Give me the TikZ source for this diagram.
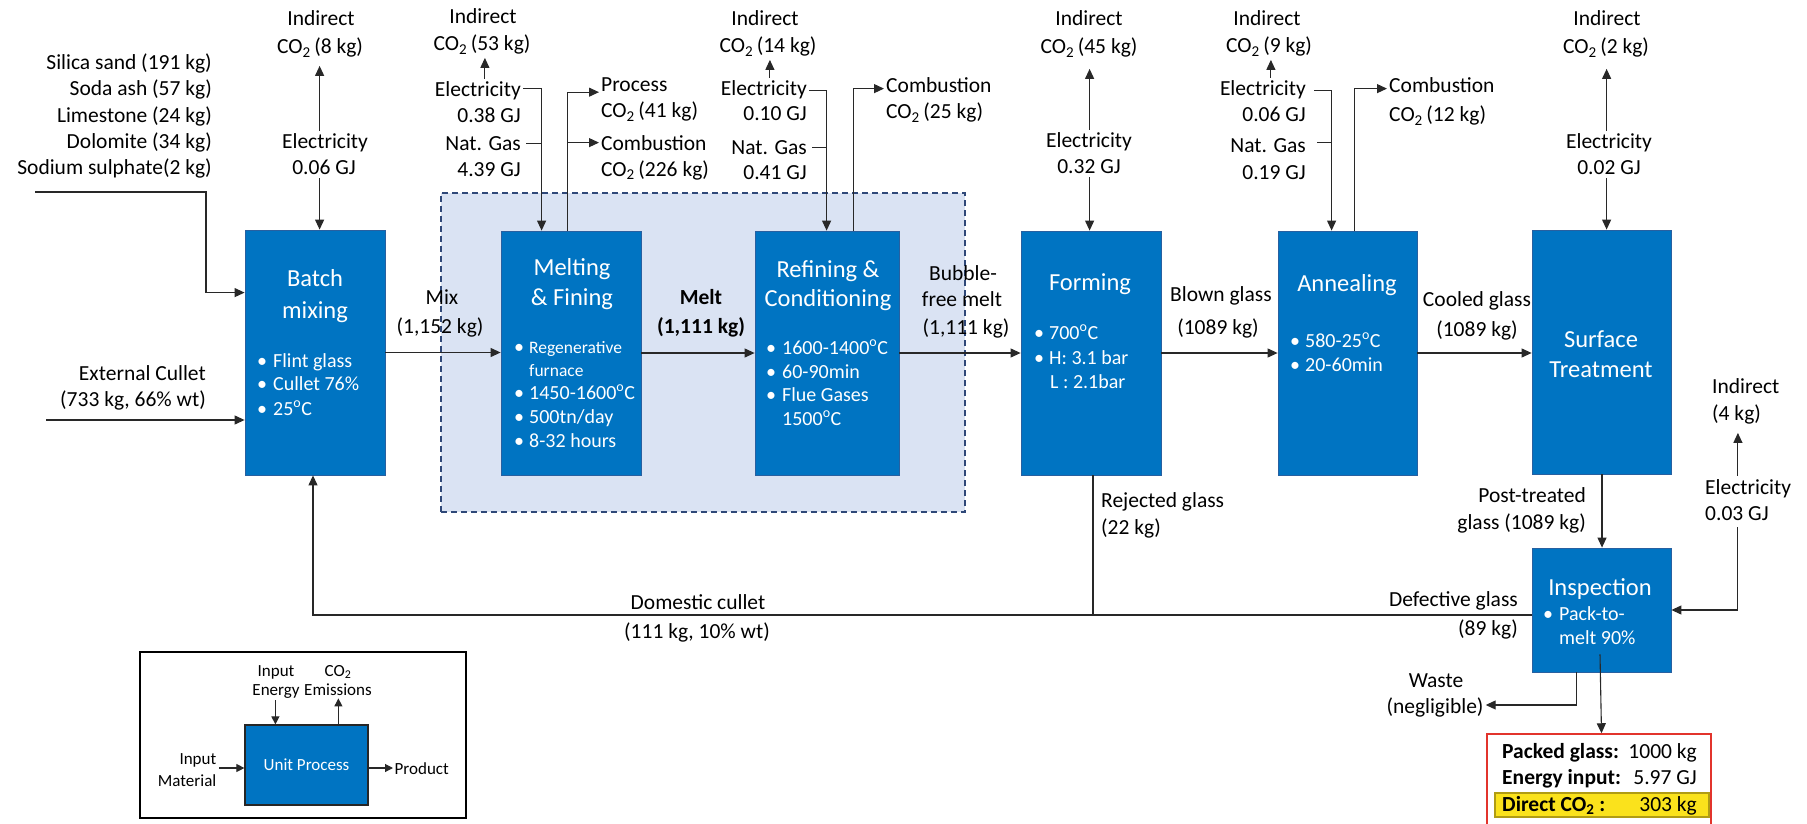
\documentclass[tikz,border=0pt]{standalone}
\usepackage{fontspec}
\setmainfont{Carlito}
\usetikzlibrary{arrows.meta,calc}

\definecolor{procblue}{RGB}{0,116,194}
\definecolor{procedge}{RGB}{40,96,160}
\definecolor{groupfill}{RGB}{218,227,243}
\definecolor{groupedge}{RGB}{47,72,120}
\definecolor{linec}{RGB}{40,40,40}
\definecolor{resred}{RGB}{226,52,44}
\definecolor{resyellow}{RGB}{250,226,28}
\definecolor{resyedge}{RGB}{176,156,20}

\newcommand\dgC{\textsuperscript{o}C}
\newcommand\cotwo{CO\textsubscript{2}}

\begin{document}
\begin{tikzpicture}[x=1pt,y=-1pt,
  lbl/.style={font=\fontsize{21.5}{26}\selectfont, inner xsep=2pt, inner ysep=3pt},
  ttl/.style={font=\fontsize{24.5}{30}\selectfont, text=white, inner sep=0pt, anchor=base},
  bl/.style={font=\fontsize{20}{24}\selectfont, text=white, inner sep=0pt, anchor=base west},
  sbl/.style={font=\fontsize{17.5}{21}\selectfont, text=white, inner sep=0pt, anchor=base west},
  dot/.style={font=\fontsize{20}{24}\selectfont, text=white, inner sep=0pt, anchor=base},
  proc/.style={fill=procblue, draw=procedge, line width=0.8pt, inner sep=0pt},
  arr/.style={draw=linec, line width=1.1pt, -{Triangle[length=10pt,width=9pt]}},
  ln/.style={draw=linec, line width=1.1pt},
  leg/.style={font=\fontsize{17}{20}\selectfont, inner sep=1.5pt},
  larr/.style={draw=linec, line width=1.1pt, -{Triangle[length=8pt,width=8pt]}},
]
\useasboundingbox (0,0) rectangle (1807,824);

% ---------- melting / refining group ----------
\node[fill=groupfill, draw=groupedge, line width=1.5pt, dash pattern=on 6pt off 4pt,
      minimum width=524pt, minimum height=319pt, inner sep=0pt] (grp) at (703,352.5) {};

% ---------- process boxes ----------
\node[proc, minimum width=140pt, minimum height=245pt] (batch)  at (315,352.5) {};
\node[proc, minimum width=140pt, minimum height=244pt] (melt)   at (571,353) {};
\node[proc, minimum width=144pt, minimum height=244pt] (refn)   at (827,353) {};
\node[proc, minimum width=140pt, minimum height=244pt] (form)   at (1091,353) {};
\node[proc, minimum width=139pt, minimum height=244pt] (anneal) at (1347.5,353) {};
\node[proc, minimum width=139pt, minimum height=244pt] (surf)   at (1601.5,352) {};
\node[proc, minimum width=139pt, minimum height=124pt] (insp)   at (1601.5,610) {};

% box titles
\node[ttl] (t-batch1) at (315,286) {Batch};
\node[ttl] (t-batch2) at (315,318) {mixing};
\node[ttl] (t-melt1)  at (572,275) {Melting};
\node[ttl] (t-melt2)  at (572,305) {\& Fining};
\node[ttl] (t-refn1)  at (828,277) {Refining \&};
\node[ttl] (t-refn2)  at (828,306) {Conditioning};
\node[ttl] (t-form)   at (1090,290) {Forming};
\node[ttl] (t-ann)    at (1347,291) {Annealing};
\node[ttl] (t-surf1)  at (1601,347) {Surface};
\node[ttl] (t-surf2)  at (1601,377) {Treatment};
\node[ttl] (t-insp)   at (1600,595) {Inspection};

% bullet lists inside the boxes
\foreach \t/\y [count=\i] in {{Flint glass}/367, {Cullet 76\%}/390, {25\dgC}/415} {
  \node[dot] (bd\i) at (262,\y) {\textbullet};
  \node[bl]  (bt\i) at (273,\y) {\t};
}
\node[dot] (md1) at (519,353) {\textbullet};
\node[sbl] (mt1) at (529,353) {Regenerative};
\node[sbl] (mt1b) at (529,376) {furnace};
\foreach \t/\y [count=\i from 2] in {{1450-1600\dgC}/399, {500tn/day}/423, {8-32 hours}/447} {
  \node[dot] (md\i) at (519,\y) {\textbullet};
  \node[bl]  (mt\i) at (529,\y) {\t};
}
\foreach \t/\y [count=\i] in {{1600-1400\dgC}/354, {60-90min}/378, {Flue Gases}/401} {
  \node[dot] (rd\i) at (771,\y) {\textbullet};
  \node[bl]  (rt\i) at (782,\y) {\t};
}
\node[bl] (rt4) at (782,425) {1500\dgC};
\foreach \t/\y [count=\i] in {{700\dgC}/339, {H: 3.1 bar}/364} {
  \node[dot] (fd\i) at (1039,\y) {\textbullet};
  \node[bl]  (ft\i) at (1049,\y) {\t};
}
\node[bl] (ft3) at (1050,388) {L : 2.1bar};
\foreach \t/\y [count=\i] in {{580-25\dgC}/347, {20-60min}/371} {
  \node[dot] (ad\i) at (1295,\y) {\textbullet};
  \node[bl]  (at\i) at (1305,\y) {\t};
}
\node[dot] (id1) at (1548,620) {\textbullet};
\node[bl]  (it1) at (1559,620) {Pack-to-};
\node[bl]  (it2) at (1559,644) {melt 90\%};

% ---------- raw materials and external cullet ----------
\foreach \t/\y [count=\i] in {{Silica sand (191 kg)}/70, {Soda ash (57 kg)}/96, {Limestone (24 kg)}/123,
    {Dolomite (34 kg)}/149, {Sodium sulphate(2 kg)}/175} {
  \node[lbl, anchor=base east] (raw\i) at (214,\y) {\t};
}
\coordinate (rawin) at (35,192);
\coordinate (rawbend) at (206,192);
\draw[arr] (rawin) -- (rawbend) |- ($(batch.north west)+(0,63)$);

\node[lbl, anchor=base east] (ext1) at (208,380) {External Cullet};
\node[lbl, anchor=base east] (ext2) at (208,406) {(733 kg, 66\% wt)};
\coordinate (extin) at (46,420);
\draw[arr] (extin) -- (extin -| batch.west);

% ---------- batch mixing inputs ----------
\node[lbl, anchor=base] (b-ind) at (321,26) {Indirect};
\node[lbl, anchor=base] (b-co2) at (320,54) {\cotwo\,(8 kg)};
\node[lbl, anchor=base] (b-el)  at (325,149) {Electricity};
\node[lbl, anchor=base] (b-gj)  at (324,175) {0.06 GJ};
\coordinate (b-x) at ($(batch.north west)+(75,0)$);
\draw[arr] (b-el.north -| b-x) -- ($(b-co2.south -| b-x)+(0,5)$);
\draw[arr] (b-gj.south -| b-x) -- (b-x);

% ---------- melting inputs / emissions ----------
\node[lbl, anchor=base] (m-ind) at (483,24) {Indirect};
\node[lbl, anchor=base] (m-co2) at (482,51) {\cotwo\,(53 kg)};
\node[lbl, anchor=base east] (m-el)  at (523,97)  {Electricity};
\node[lbl, anchor=base east] (m-gj1) at (523,123) {0.38 GJ};
\node[lbl, anchor=base east] (m-gas) at (523,150) {Nat. Gas};
\node[lbl, anchor=base east] (m-gj2) at (523,176) {4.39 GJ};
\draw[arr] ($(m-el.north)+(7,0)$) coordinate (m-up) -- (m-up |- m-co2.south);
\coordinate (m-in) at ($(melt.north west)+(41,0)$);
\draw[arr] ($(m-el.east)+(0,-3)$) -| (m-in);
\draw[ln] ($(m-gas.east)+(3,0)$) -- (m-gas.east -| m-in);
\node[lbl, anchor=base west] (m-p1) at (599,92)  {Process};
\node[lbl, anchor=base west] (m-p2) at (599,118) {\cotwo\,(41 kg)};
\node[lbl, anchor=base west] (m-c1) at (599,150) {Combustion};
\node[lbl, anchor=base west] (m-c2) at (599,176) {\cotwo\,(226 kg)};
\coordinate (m-out) at ($(melt.north west)+(67,0)$);
\draw[arr] (m-out) |- ($(m-p1.west)+(0,7)$);
\draw[arr] (m-out |- m-c1.west) -- (m-c1.west);

% ---------- refining inputs / emissions ----------
\node[lbl, anchor=base] (r-ind) at (765,26) {Indirect};
\node[lbl, anchor=base] (r-co2) at (768,53) {\cotwo\,(14 kg)};
\node[lbl, anchor=base east] (r-el)  at (809,96)  {Electricity};
\node[lbl, anchor=base east] (r-gj1) at (809,121) {0.10 GJ};
\node[lbl, anchor=base east] (r-gas) at (809,154) {Nat. Gas};
\node[lbl, anchor=base east] (r-gj2) at (809,179) {0.41 GJ};
\draw[arr] ($(r-el.north)+(6,0)$) coordinate (r-up) -- (r-up |- r-co2.south);
\coordinate (r-in) at ($(refn.north west)+(72,0)$);
\draw[arr] (r-el.east) -| (r-in);
\draw[ln] ($(r-gas.east)+(3,0)$) -- (r-gas.east -| r-in);
\node[lbl, anchor=base west] (r-c1) at (884,93)  {Combustion};
\node[lbl, anchor=base west] (r-c2) at (884,119) {\cotwo\,(25 kg)};
\coordinate (r-out) at ($(refn.north west)+(99,0)$);
\draw[arr] (r-out) |- ($(r-c1.west)+(0,3)$);

% ---------- forming inputs ----------
\node[lbl, anchor=base] (f-ind) at (1089,26) {Indirect};
\node[lbl, anchor=base] (f-co2) at (1089,54) {\cotwo\,(45 kg)};
\node[lbl, anchor=base] (f-el)  at (1089,148) {Electricity};
\node[lbl, anchor=base] (f-gj)  at (1089,174) {0.32 GJ};
\coordinate (f-x) at ($(form.north west)+(69,0)$);
\draw[arr] (f-el.north -| f-x) -- ($(f-co2.south -| f-x)+(0,8)$);
\draw[arr] (f-gj.south -| f-x) -- (f-x);

% ---------- annealing inputs / emissions ----------
\node[lbl, anchor=base] (a-ind) at (1267,26) {Indirect};
\node[lbl, anchor=base] (a-co2) at (1269,53) {\cotwo\,(9 kg)};
\node[lbl, anchor=base east] (a-el)  at (1308,96)  {Electricity};
\node[lbl, anchor=base east] (a-gj1) at (1308,122) {0.06 GJ};
\node[lbl, anchor=base east] (a-gas) at (1308,153) {Nat. Gas};
\node[lbl, anchor=base east] (a-gj2) at (1308,179) {0.19 GJ};
\draw[arr] ($(a-el.north)+(8,0)$) coordinate (a-up) -- (a-up |- a-co2.south);
\coordinate (a-in) at ($(anneal.north west)+(54,0)$);
\draw[arr] ($(a-el.east)+(6,0)$) -| (a-in);
\draw[ln] ($(a-gas.east)+(9,-4)$) -- ($(a-gas.east -| a-in)+(0,-4)$);
\node[lbl, anchor=base west] (a-c1) at (1387,93)  {Combustion};
\node[lbl, anchor=base west] (a-c2) at (1387,122) {\cotwo\,(12 kg)};
\coordinate (a-out) at ($(anneal.north west)+(77,0)$);
\draw[arr] (a-out) |- ($(a-c1.west)+(0,3)$);

% ---------- surface treatment inputs ----------
\node[lbl, anchor=base] (s-ind) at (1607,26) {Indirect};
\node[lbl, anchor=base] (s-co2) at (1606,54) {\cotwo\,(2 kg)};
\node[lbl, anchor=base] (s-el)  at (1609,149) {Electricity};
\node[lbl, anchor=base] (s-gj)  at (1609,175) {0.02 GJ};
\coordinate (s-x) at ($(surf.north west)+(75,0)$);
\draw[arr] (s-el.north -| s-x) -- ($(s-co2.south -| s-x)+(0,8)$);
\draw[arr] (s-gj.south -| s-x) -- (s-x);

% ---------- main product flow ----------
\draw[arr] (batch.east) -- (batch.east -| melt.west);
\draw[arr] (melt.east) -- (melt.east -| refn.west);
\draw[arr] (refn.east) -- (refn.east -| form.west);
\draw[arr] (form.east) -- (form.east -| anneal.west);
\draw[arr] (anneal.east) -- (anneal.east -| surf.west);
\draw[arr] ($(surf.south)+(0.5,0)$) -- ($(insp.north)+(0.5,0)$);

\node[lbl, anchor=base] (mix1) at (442,304) {Mix};
\node[lbl, anchor=base] (mix2) at (440,333) {(1,152 kg)};
\node[lbl, anchor=base] (mlt1) at (701,304) {\textbf{Melt}};
\node[lbl, anchor=base] (mlt2) at (701,333) {\textbf{(1,111 kg)}};
\node[lbl, anchor=base] (bub1) at (963,280) {Bubble-};
\node[lbl, anchor=base] (bub2) at (962,306) {free melt};
\node[lbl, anchor=base] (bub3) at (966,334) {(1,111 kg)};
\node[lbl, anchor=base] (blw1) at (1221,301) {Blown glass};
\node[lbl, anchor=base] (blw2) at (1218,334) {(1089 kg)};
\node[lbl, anchor=base] (col1) at (1477,306) {Cooled glass};
\node[lbl, anchor=base] (col2) at (1477,336) {(1089 kg)};
\node[lbl, anchor=base east] (pt1) at (1588,502) {Post-treated};
\node[lbl, anchor=base east] (pt2) at (1588,529) {glass (1089 kg)};

% ---------- recycled cullet loop ----------
\coordinate (loop) at ($(insp.west)+(0,5)$);
\draw[arr] (loop) -| ($(batch.south)+(-2,0)$);
\draw[ln] ($(form.south)+(2,0)$) -- ($(form.south |- loop)+(2,0)$);
\node[lbl, anchor=base west] (rej1) at (1099,507) {Rejected glass};
\node[lbl, anchor=base west] (rej2) at (1099,534) {(22 kg)};
\node[lbl, anchor=base] (dom1) at (698,609) {Domestic cullet};
\node[lbl, anchor=base] (dom2) at (697,638) {(111 kg, 10\% wt)};
\node[lbl, anchor=base east] (def1) at (1520,606) {Defective glass};
\node[lbl, anchor=base east] (def2) at (1520,635) {(89 kg)};

% ---------- inspection energy ----------
\node[lbl, anchor=base west] (i-ind) at (1710,393) {Indirect};
\node[lbl, anchor=base west] (i-kg)  at (1710,420) {(4 kg)};
\node[lbl, anchor=base west] (i-el)  at (1703,494) {Electricity};
\node[lbl, anchor=base west] (i-gj)  at (1703,520) {0.03 GJ};
\coordinate (i-x) at ($(i-gj.south)+(1,4)$);
\draw[arr] (i-x) |- (insp.east);
\draw[arr] (i-el.north -| i-x) -- ($(i-kg.south -| i-x)+(0,6)$);

% ---------- inspection outputs ----------
\node[lbl, anchor=base] (wst1) at (1436,687) {Waste};
\node[lbl, anchor=base] (wst2) at (1435,713) {(negligible)};
\draw[arr] ($(insp.south west)+(45,0)$) |- ($(wst2.east)+(0,-2)$);

\node[draw=resred, line width=1.5pt, minimum width=224pt, minimum height=100pt,
      inner sep=0pt] (res) at (1599,784) {};
\fill[resyellow, draw=resyedge, line width=1.2pt] (1495,793) rectangle (1709,817);
\node[lbl, anchor=base west] (res1) at (1500,758) {\textbf{Packed glass:}};
\node[lbl, anchor=base east] (res2) at (1699,758) {1000 kg};
\node[lbl, anchor=base west] (res3) at (1500,784) {\textbf{Energy input:}};
\node[lbl, anchor=base east] (res4) at (1699,784) {5.97 GJ};
\node[lbl, anchor=base west] (res5) at (1500,811) {\textbf{Direct \cotwo\ :}};
\node[lbl, anchor=base east] (res6) at (1699,811) {303 kg};
\draw[arr] ($(insp.south)+(-1.5,-18)$) -- (insp.south |- res.north);

% ---------- legend ----------
\node[draw=black, line width=1.5pt, minimum width=326pt, minimum height=166pt,
      inner sep=0pt] (legend) at (303,735) {};
\node[fill=procblue, draw=black!85, line width=1.2pt, minimum width=123pt,
      minimum height=80pt, inner sep=0pt, text=white,
      font=\fontsize{17}{20}\selectfont] (unit) at (306.5,765) {Unit Process};
\node[leg, anchor=base] (l-in1) at (276,676) {Input};
\node[leg, anchor=base] (l-in2) at (276,695) {Energy};
\node[leg, anchor=base] (l-co1) at (338,676) {\cotwo};
\node[leg, anchor=base] (l-co2) at (338,695) {Emissions};
\node[leg, anchor=base east] (l-m1) at (218,764) {Input};
\node[leg, anchor=base east] (l-m2) at (218,786) {Material};
\node[leg, anchor=base west] (l-pr) at (393,774) {Product};
\coordinate (l-pin) at ($(unit.east)+(0,3)$);
\draw[larr] ($(unit.north west)+(31,-24)$) -- ($(unit.north west)+(31,0)$);
\draw[larr] ($(unit.north west)+(94,0)$) -- ($(unit.north west)+(94,-26)$);
\draw[larr] ($(unit.west)+(-25,3)$) -- ($(unit.west)+(0,3)$);
\draw[larr] (l-pin) -- (l-pin -| l-pr.west);
\end{tikzpicture}
\end{document}
